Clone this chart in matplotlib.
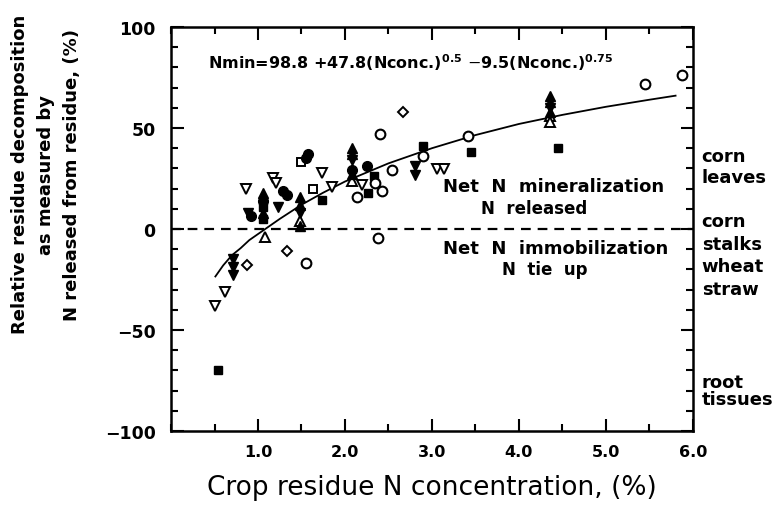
import matplotlib
matplotlib.use("Agg")
import matplotlib.pyplot as plt
from matplotlib.ticker import MultipleLocator, FormatStrFormatter

plt.rcParams["font.family"] = ["DejaVu Sans"]
plt.rcParams["mathtext.fontset"] = "dejavusans"
plt.rcParams["lines.scale_dashes"] = False

# fitted curve
curve_x = [0.51, 0.6, 0.7, 0.8, 0.9, 1.0, 1.1, 1.25, 1.5, 1.75, 2.0, 2.5,
           3.0, 3.5, 4.0, 4.5, 5.0, 5.5, 5.8]
curve_y = [-23.5, -18, -13, -9.5, -5.5, -2.5, 0.5, 5, 12, 18, 23.5, 32.5,
           40, 46.5, 52, 56.5, 60.5, 64, 66]

# data points by marker type
sq_filled_x = [0.54, 1.06, 1.06, 1.74, 2.26, 2.33, 2.90, 3.45, 4.45]
sq_filled_y = [-70, 11, 5, 14.5, 18, 26, 41, 38, 40]

sq_open_x = [1.49, 1.63]
sq_open_y = [33, 20]

circ_open_x = [1.55, 2.14, 2.35, 2.43, 2.38, 2.40, 2.54, 2.90, 3.41, 5.45, 5.87]
circ_open_y = [-17, 16, 23, 19, -4.5, 47, 29, 36, 46, 72, 76]

circ_filled_x = [0.92, 1.06, 1.29, 1.33, 1.55, 1.58, 2.25, 2.08]
circ_filled_y = [6.5, 14, 19, 17, 35, 37, 31, 29]

tdown_open_x = [0.51, 0.62, 0.86, 1.17, 1.21, 1.74, 1.85, 2.20, 3.06, 3.14]
tdown_open_y = [-38, -31, 20, 25, 23, 27.5, 21, 22, 29.5, 29.5]

tdown_filled_x = [0.71, 0.71, 0.71, 0.88, 1.23, 1.48, 2.08, 2.80, 2.80, 4.36]
tdown_filled_y = [-15, -19, -23, 8, 11, 8, 34, 31, 26.5, 60]

tup_open_x = [1.08, 1.48, 2.08, 4.36, 4.36]
tup_open_y = [-4, 4, 24, 56, 53]

tup_filled_x = [1.06, 1.06, 1.48, 1.48, 1.48, 2.08, 2.08, 2.08, 4.36, 4.36, 4.36]
tup_filled_y = [18, 8, 16, 12, 1.5, 40, 37, 27, 66, 63, 58]

diamond_x = [0.87, 1.33, 2.67]
diamond_y = [-18, -11, 58]

# residue labels on the right side
side_labels = ["corn", "leaves", "corn", "stalks", "wheat", "straw", "root", "tissues"]
side_y = [36, 25.7, 4, -7.4, -18.3, -29.7, -75.7, -84]

fig = plt.figure(figsize=(7.78, 5.06), dpi=100)
ax = fig.add_axes([0.2198, 0.1462, 0.6709, 0.7985])

ax.plot(curve_x, curve_y, color="black", lw=1.3, zorder=2)
ax.axhline(0, color="black", lw=1.6, ls=(0, (7, 5)), zorder=1)

ms = 7
ax.plot(sq_filled_x, sq_filled_y, "s", ms=6, mfc="black", mec="black", zorder=3)
ax.plot(sq_open_x, sq_open_y, "s", ms=6, mfc="white", mec="black", mew=1.4, zorder=3)
ax.plot(circ_open_x, circ_open_y, "o", ms=ms, mfc="white", mec="black", mew=1.5, zorder=3)
ax.plot(circ_filled_x, circ_filled_y, "o", ms=ms, mfc="black", mec="black", zorder=3)
ax.plot(tdown_open_x, tdown_open_y, "v", ms=ms, mfc="white", mec="black", mew=1.4, zorder=3)
ax.plot(tdown_filled_x, tdown_filled_y, "v", ms=ms, mfc="black", mec="black", zorder=3)
ax.plot(tup_open_x, tup_open_y, "^", ms=ms, mfc="white", mec="black", mew=1.4, zorder=3)
ax.plot(tup_filled_x, tup_filled_y, "^", ms=ms, mfc="black", mec="black", zorder=3)
ax.plot(diamond_x, diamond_y, "D", ms=5, mfc="white", mec="black", mew=1.4, zorder=3)

ax.set_xlim(0, 6)
ax.set_ylim(-100, 100)
ax.xaxis.set_major_locator(MultipleLocator(1))
ax.xaxis.set_minor_locator(MultipleLocator(0.5))
ax.yaxis.set_major_locator(MultipleLocator(50))
ax.yaxis.set_minor_locator(MultipleLocator(10))
ax.xaxis.set_major_formatter(FormatStrFormatter("%.1f"))
ax.set_xticks([1, 2, 3, 4, 5, 6])
ax.tick_params(which="both", direction="in", top=True, right=True, width=1.5)
ax.tick_params(which="major", length=9)
ax.tick_params(which="minor", length=5)
ax.tick_params(axis="x", labelsize=11.5, pad=9)
ax.tick_params(axis="y", labelsize=12.5, pad=11)
for lab in ax.get_xticklabels() + ax.get_yticklabels():
    lab.set_fontweight("bold")
for sp in ax.spines.values():
    sp.set_linewidth(1.8)

ax.set_xlabel("Crop residue N concentration, (%)", fontsize=19, labelpad=11)
fig.text(0.059, 0.655,
         "Relative residue decomposition\nas measured by\nN released from residue, (%)",
         rotation=90, ha="center", va="center", multialignment="center",
         fontsize=13, fontweight="bold", linespacing=1.55)

ax.text(0.43, 82.7,
        r"Nmin=98.8 +47.8(Nconc.)$^{\mathbf{0.5}}$ $-$9.5(Nconc.)$^{\mathbf{0.75}}$",
        fontsize=11.5, fontweight="bold", va="center", ha="left")

ax.text(3.13, 21.3, "Net  N  mineralization", fontsize=13, fontweight="bold",
        va="center", ha="left")
ax.text(4.79, 10.4, "N  released", fontsize=12, fontweight="bold",
        va="center", ha="right")
ax.text(3.13, -9.4, "Net  N  immobilization", fontsize=13, fontweight="bold",
        va="center", ha="left")
ax.text(4.79, -19.8, "N  tie  up", fontsize=12, fontweight="bold",
        va="center", ha="right")

for lab, yv in zip(side_labels, side_y):
    ax.text(6.1, yv, lab, fontsize=13, fontweight="bold", va="center",
            ha="left", clip_on=False)

fig.savefig("out.png", dpi=100)
